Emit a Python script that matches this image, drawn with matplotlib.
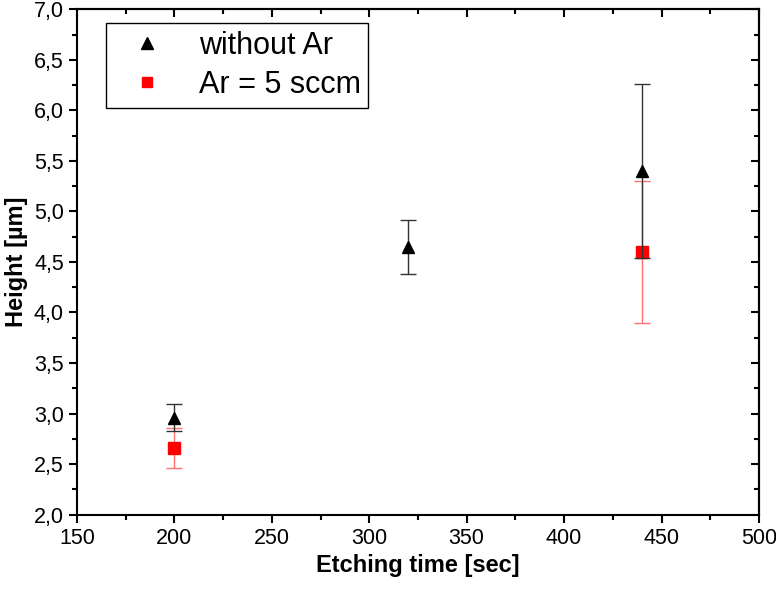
import numpy as np
import matplotlib.pyplot as plt
from matplotlib.ticker import MultipleLocator, FuncFormatter
from matplotlib.lines import Line2D

plt.rcParams['font.family'] = ['Liberation Sans', 'DejaVu Sans']

# without Ar
t_noar = [200, 320, 440]
h_noar = [2.96, 4.65, 5.40]
e_noar = [0.13, 0.27, 0.86]

# Ar = 5 sccm
t_ar = [200, 440]
h_ar = [2.66, 4.60]
e_ar = [0.20, 0.70]

fig = plt.figure(figsize=(7.76, 5.91), dpi=100)
ax = fig.add_axes([0.0992, 0.1294, 0.8788, 0.8546])

ax.errorbar(t_noar, h_noar, yerr=e_noar, fmt='^', color='black', ms=9,
            ecolor='#333333', elinewidth=1, capsize=6, capthick=1, zorder=3)
ax.errorbar(t_ar, h_ar, yerr=e_ar, fmt='s', color='red', ms=8.5,
            ecolor='#ff7070', elinewidth=1, capsize=6, capthick=1, zorder=2)

ax.set_xlim(150, 500)
ax.set_ylim(2.0, 7.0)
ax.xaxis.set_major_locator(MultipleLocator(50))
ax.xaxis.set_minor_locator(MultipleLocator(25))
ax.yaxis.set_major_locator(MultipleLocator(0.5))
ax.yaxis.set_minor_locator(MultipleLocator(0.25))
ax.yaxis.set_major_formatter(FuncFormatter(lambda v, p: f'{v:.1f}'.replace('.', ',')))

for s in ax.spines.values():
    s.set_linewidth(1.5)
ax.tick_params(which='major', direction='out', length=6, width=1.5, labelsize=15.5)
ax.tick_params(which='minor', direction='out', length=3.5, width=1.5)
# inward ticks on top/right
axt = ax.secondary_xaxis('top')
axt.xaxis.set_major_locator(MultipleLocator(50))
axt.xaxis.set_minor_locator(MultipleLocator(25))
axt.tick_params(which='major', direction='in', length=6, width=1.5, labeltop=False)
axt.tick_params(which='minor', direction='in', length=3.5, width=1.5)
axr = ax.secondary_yaxis('right')
axr.yaxis.set_major_locator(MultipleLocator(0.5))
axr.yaxis.set_minor_locator(MultipleLocator(0.25))
axr.tick_params(which='major', direction='in', length=6, width=1.5, labelright=False)
axr.tick_params(which='minor', direction='in', length=3.5, width=1.5)
for a in (axt, axr):
    for s in a.spines.values():
        s.set_linewidth(1.5)

ax.set_xlabel('Etching time [sec]', fontsize=17, fontweight='bold', labelpad=4)
ax.set_ylabel('Height [µm]', fontsize=17, fontweight='bold', labelpad=4)

handles = [Line2D([], [], marker='^', color='black', ls='none', ms=8),
           Line2D([], [], marker='s', color='red', ls='none', ms=7)]
leg = ax.legend(handles, ['without Ar', 'Ar = 5 sccm'], loc='upper left',
                bbox_to_anchor=(0.042, 0.973), fontsize=22,
                fancybox=False, edgecolor='black', framealpha=1,
                handletextpad=0.6, handlelength=2.2, borderpad=0.25,
                labelspacing=0.3, borderaxespad=0)
leg.get_frame().set_linewidth(1)

fig.savefig('out.png', dpi=100)
